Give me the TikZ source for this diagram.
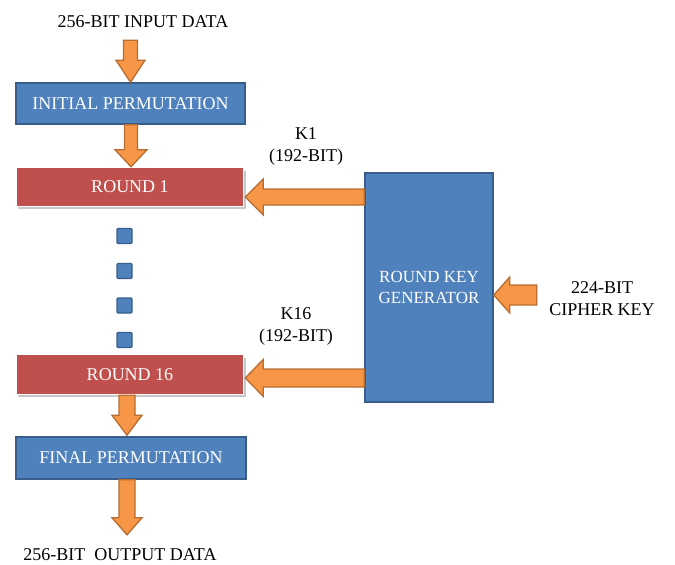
\documentclass[tikz,border=0pt]{standalone}
\usepackage{fontspec}
\setmainfont{Liberation Serif}
\usetikzlibrary{calc}
\definecolor{bfill}{HTML}{4F81BD}
\definecolor{bline}{HTML}{385D8A}
\definecolor{rfill}{HTML}{C0504D}
\definecolor{ofill}{HTML}{F79646}
\definecolor{oline}{HTML}{B66D31}
\tikzset{
  bluebox/.style={draw=bline, fill=bfill, line width=1.5pt, text=white, inner sep=0pt, font=\fontsize{18}{21}\selectfont},
  redbox/.style={draw=white, fill=rfill, line width=1.5pt, text=white, inner sep=0pt, font=\fontsize{18}{21}\selectfont},
  plain/.style={inner sep=0pt, align=center, font=\fontsize{18}{22}\selectfont, text=black},
  fatarr/.style={draw=oline, fill=ofill, line width=1.3pt, line join=miter},
  dotbox/.style={draw=bline, fill=bfill, line width=1.2pt, minimum size=15pt, inner sep=0pt, rounded corners=1pt},
  shadowbox/.style={fill=black!22, draw=none}
}
% vertical (downward) fat arrow: start, end, half shaft, half head, head length
\newcommand\fatv[5]{\draw[fatarr] let \p1=#1, \p2=#2 in
  ({\x1-#3pt},\y1) -- ({\x1+#3pt},\y1) -- ({\x1+#3pt},{\y2+#5pt}) -- ({\x1+#4pt},{\y2+#5pt})
  -- (\x1,\y2) -- ({\x1-#4pt},{\y2+#5pt}) -- ({\x1-#3pt},{\y2+#5pt}) -- cycle;}
% horizontal (leftward) fat arrow
\newcommand\fath[5]{\draw[fatarr] let \p1=#1, \p2=#2 in
  (\x1,{\y1+#3pt}) -- (\x1,{\y1-#3pt}) -- ({\x2+#5pt},{\y1-#3pt}) -- ({\x2+#5pt},{\y1-#4pt})
  -- (\x2,\y1) -- ({\x2+#5pt},{\y1+#4pt}) -- ({\x2+#5pt},{\y1+#3pt}) -- cycle;}
\begin{document}
\begin{tikzpicture}[x=1pt,y=-1pt]
\useasboundingbox (0,0) rectangle (675,565);
% text nodes
\node[plain, minimum height=37pt] (in) at (143,21.5) {256-BIT INPUT DATA};
\node[plain, minimum height=40pt] (out) at (120,555) {256-BIT\ \ OUTPUT DATA};
\node[plain] (k1) at (306,146) {K1\\(192-BIT)};
\node[plain] (k16) at (296,326) {K16\\(192-BIT)};
\node[plain, minimum width=130pt] (ck) at (602,298.5) {224-BIT\\CIPHER KEY};
% boxes
\fill[shadowbox] (18,171) rectangle (246,209);
\fill[shadowbox] (18,358) rectangle (246,397);
\node[bluebox, minimum width=229pt, minimum height=41pt] (ip) at (130.5,103.5) {INITIAL PERMUTATION};
\node[redbox, minimum width=227pt, minimum height=39pt] (r1) at (130,187) {ROUND 1};
\node[redbox, minimum width=227pt, minimum height=40pt] (r16) at (130,374.5) {ROUND 16};
\node[bluebox, minimum width=230pt, minimum height=42pt] (fp) at (131,458) {FINAL PERMUTATION};
\node[bluebox, minimum width=128pt, minimum height=229pt, align=center, font=\fontsize{17}{21}\selectfont] (rkg) at (429,287.5) {ROUND KEY\\GENERATOR};
% dots
\node[dotbox] (d1) at (124.5,236) {};
\node[dotbox] (d2) at (124.5,271) {};
\node[dotbox] (d3) at (124.5,305.5) {};
\node[dotbox] (d4) at (124.5,340) {};
% connectors
\coordinate (a1s) at (ip.north |- in.south);
\fatv{(a1s)}{(ip.north)}{7}{14.5}{22}
\coordinate (a2s) at ([xshift=0.5pt]ip.south);
\coordinate (a2e) at ([xshift=1pt]r1.north);
\fatv{(a2s)}{(a2e)}{6.5}{16}{17}
\coordinate (a3s) at ([xshift=-3pt]r16.south);
\coordinate (a3e) at ([xshift=-3pt,yshift=1pt]fp.north);
\fatv{(a3s)}{(a3e)}{8}{15}{20}
\coordinate (a4s) at ([xshift=-4pt]fp.south);
\coordinate (a4e) at (a4s |- out.north);
\fatv{(a4s)}{(a4e)}{8}{15}{17}
\coordinate (k1e) at ([yshift=-10pt,xshift=1pt]r1.east);
\coordinate (k1s) at (rkg.west |- k1e);
\fath{(k1s)}{(k1e)}{8}{18}{18}
\coordinate (k16e) at ([yshift=-3.5pt,xshift=1pt]r16.east);
\coordinate (k16s) at (rkg.west |- k16e);
\fath{(k16s)}{(k16e)}{9}{18.5}{18}
\coordinate (cke) at ([yshift=-7.5pt]rkg.east);
\coordinate (cks) at (ck.west |- cke);
\fath{(cks)}{(cke)}{10}{18}{16}
\end{tikzpicture}
\end{document}
